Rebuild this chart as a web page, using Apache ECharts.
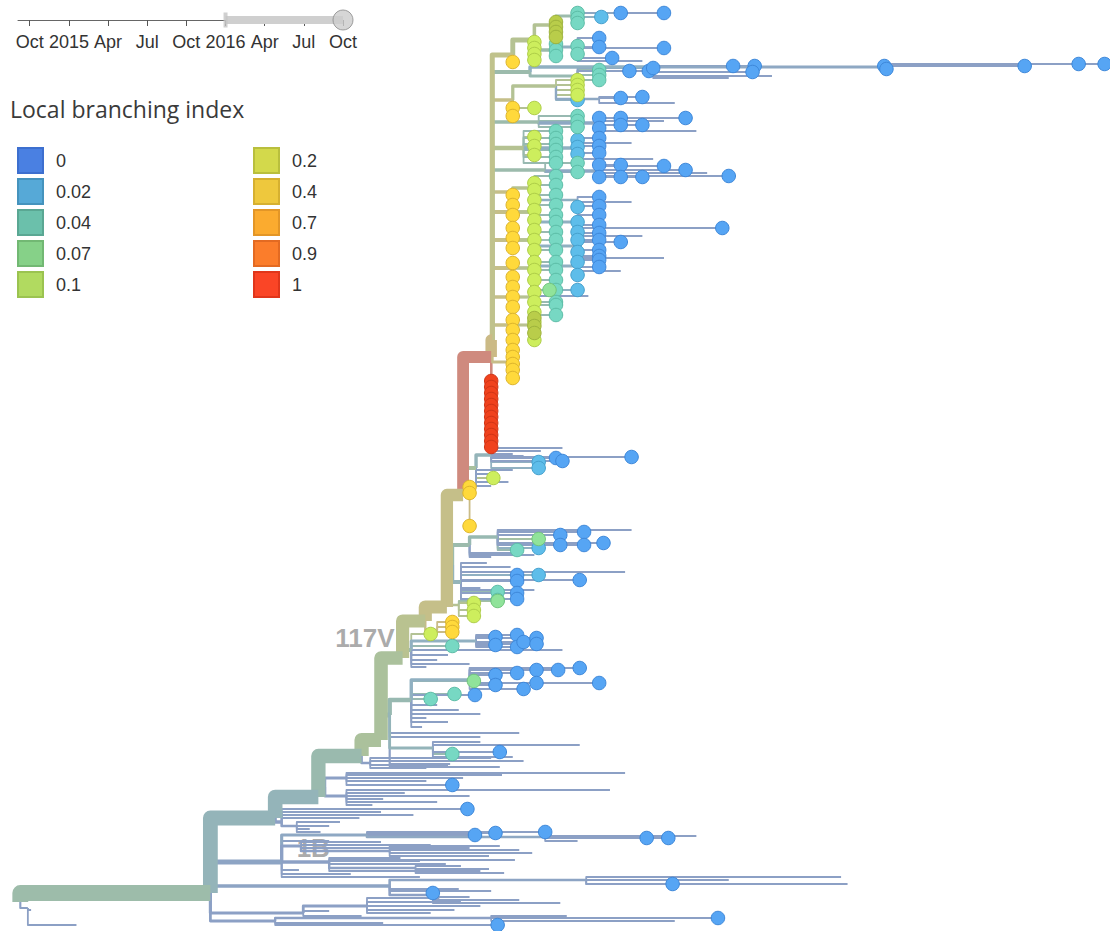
<!DOCTYPE html>
<html><head><meta charset="utf-8">
<script src="https://cdn.jsdelivr.net/npm/echarts@6/dist/echarts.min.js"></script>
<style>html,body{margin:0;padding:0;background:#fff}#c{width:1110px;height:931px}</style>
</head><body><div id="c"></div>
<script>
// ================= DATA =================
// Local branching index colour stops (legend)
const lbiStops = [0, 0.02, 0.04, 0.07, 0.1, 0.2, 0.4, 0.7, 0.9, 1];
const lbiLabels = ['0', '0.02', '0.04', '0.07', '0.1', '0.2', '0.4', '0.7', '0.9', '1'];
// Date slider
const timeTickMonths = [0, 3, 6, 9, 12, 15, 18, 21, 24];       // months since Oct 2014
const timeTickLabels = ['Oct', '2015', 'Apr', 'Jul', 'Oct', '2016', 'Apr', 'Jul', 'Oct'];
const timeRange = [-0.9, 24];
const sliderRange = [15, 24];
// Clade labels
const branchLabelNames = ['117V', '1B'];
const branchLabelNodes = ['T6', 'B1B'];

// Internal nodes: [id, parent, divergence (mutations), vertical order, LBI]
const trunkNodes = [
  ['root', null, 0.2, 902, 0.055],
  ['T1', 'root', 9.0, 893, 0.055],
  ['T2', 'T1', 12.0, 818, 0.03],
  ['T3', 'T2', 14.0, 797, 0.03],
  ['T4', 'T3', 16.0, 756, 0.045],
  ['T5', 'T4', 16.9, 740, 0.085],
  ['T6', 'T5', 17.9, 658, 0.085],
  ['T7', 'T6', 18.95, 621, 0.15],
  ['T8', 'T7', 19.95, 607, 0.3],
  ['T9', 'T8', 20.7, 495, 0.3],
  ['T10', 'T9', 22.0, 357, 1],
  ['TA', 'T10', 22.05, 340, 0.45]
];
const baseNodes = [
  ['O1', 'root', 0.55, 908, 0],
  ['B1B', 'T1', 12.3, 862, 0.005],
  ['B1Ba', 'B1B', 16.25, 835, 0.01],
  ['B1Bb', 'B1Ba', 24.5, 837, 0.01],
  ['B1Bc', 'B1B', 13.2, 846, 0],
  ['B1Bd', 'B1Bc', 17.3, 851, 0],
  ['B1Be', 'B1B', 14.5, 862, 0],
  ['B1Bf', 'B1Be', 18.5, 868, 0],
  ['B2', 'T1', 17.3, 886, 0.005],
  ['B2a', 'B2', 26.4, 880, 0.005],
  ['B2b', 'B2', 19.3, 895, 0],
  ['B3', 'T1', 13.3, 913, 0],
  ['B3a', 'B3', 16.25, 906, 0],
  ['B4', 'T1', 12.0, 921, 0],
  ['B4a', 'B4', 22.0, 918, 0],
  ['Q', 'T2', 12.3, 822, 0],
  ['Qa', 'Q', 13.0, 826, 0],
  ['P', 'T3', 14.3, 787, 0],
  ['Pa', 'P', 15.3, 778, 0],
  ['Pb', 'P', 15.3, 796, 0],
  ['R1', 'T4', 16.4, 763, 0]
];
const midNodes = [
  ['S', 'T5', 17.3, 715, 0.03],
  ['S1', 'S', 18.3, 700, 0.04],
  ['S1a', 'S1', 21.0, 680, 0.02],
  ['S2', 'S', 19.3, 748, 0.03],
  ['U', 'T6', 18.3, 650, 0.04],
  ['U1', 'U', 21.3, 641, 0.02],
  ['Y2', 'T7', 19.5, 630, 0.4],
  ['Lm', 'T8', 20.5, 605, 0.12],
  ['M', 'T8', 20.2, 565, 0.04],
  ['M1', 'M', 21.0, 545, 0.05],
  ['M1a', 'M1', 22.3, 537, 0.04],
  ['M2', 'M', 20.6, 582, 0.03],
  ['Y1', 'T9', 21.0, 495, 0.4],
  ['L0', 'T9', 21.3, 468, 0.08],
  ['L1', 'L0', 22.0, 455, 0.03]
];
const topNodes = [
  ['A0', 'TA', 23.0, 55, 0.2],
  ['A1', 'A0', 24.0, 40, 0.12],
  ['A2', 'A1', 25.0, 25, 0.1],
  ['A3', 'A2', 26.0, 16, 0.05],
  ['A4', 'A3', 28.0, 13, 0.01],
  ['A5', 'A1', 25.0, 50, 0.05],
  ['A6', 'A5', 26.0, 47, 0.02],
  ['Bl0', 'TA', 23.8, 72, 0.05],
  ['Bl1', 'Bl0', 26.0, 76, 0.04],
  ['Bl2', 'Bl0', 29.5, 67, 0.02],
  ['Bl3', 'Bl2', 40.2, 67, 0.01],
  ['C0', 'TA', 23.0, 100, 0.3],
  ['C1', 'C0', 25.0, 86, 0.1],
  ['C2', 'C1', 27.0, 99, 0.01],
  ['D0', 'TA', 24.2, 122, 0.05],
  ['D1', 'D0', 27.0, 123, 0.01],
  ['E0', 'TA', 23.5, 148, 0.12],
  ['E1', 'E0', 26.0, 148, 0.02],
  ['F0', 'TA', 24.5, 170, 0.05],
  ['F1', 'F0', 27.0, 171, 0.01],
  ['G1', 'TA', 23.0, 192, 0.3],
  ['G1a', 'G1', 24.0, 188, 0.12],
  ['G1b', 'G1a', 26.0, 200, 0.02],
  ['G2', 'TA', 23.0, 212, 0.3],
  ['G2a', 'G2', 24.0, 212, 0.12],
  ['G2b', 'G2a', 26.0, 222, 0.02],
  ['G3', 'TA', 23.0, 240, 0.3],
  ['G3a', 'G3', 24.0, 240, 0.12],
  ['G3b', 'G3a', 26.0, 246, 0.02],
  ['G4', 'TA', 23.0, 268, 0.3],
  ['G4a', 'G4', 24.0, 268, 0.12],
  ['G4b', 'G4a', 26.0, 266, 0.02],
  ['G5', 'TA', 23.0, 297, 0.3],
  ['G5a', 'G5', 24.0, 297, 0.12],
  ['G6', 'TA', 23.0, 325, 0.3],
  ['G6a', 'G6', 24.0, 325, 0.15],
  ['G7', 'TA', 23.0, 362, 0.35]
];

// Tips: [parent, divergence, LBI, sampled in date range (circle), [vertical orders]]
const baseTips = [
  ['O1', 2.8, 0, 0, [925]], ['O1', 0.7, 0, 0, [910]],
  ['B1Ba', 21.25, 0, 1, [835]], ['B1Ba', 22.2, 0, 1, [833]], ['B1Ba', 24.5, 0, 1, [832]],
  ['B1Bb', 29.2, 0, 1, [838]], ['B1Bb', 30.2, 0, 1, [838]], ['B1Bb', 31.5, 0, 0, [836]], ['B1Bb', 26.0, 0, 0, [841]],
  ['B1Bc', 16.9, 0, 0, [842]], ['B1Bc', 19.2, 0, 0, [845]], ['B1Bc', 21.0, 0, 0, [848]],
  ['B1Bd', 22.4, 0, 0, [846]], ['B1Bd', 23.3, 0, 0, [850]], ['B1Bd', 23.9, 0, 0, [853]], ['B1Bd', 21.9, 0, 0, [856]],
  ['B1Be', 17.8, 0, 0, [858]], ['B1Be', 18.7, 0, 0, [861]], ['B1Be', 19.9, 0, 0, [864]], ['B1Be', 23.1, 0, 0, [860]], ['B1Be', 21.5, 0, 0, [871]],
  ['B1Bf', 20.6, 0, 0, [866]], ['B1Bf', 21.9, 0, 0, [869]], ['B1Bf', 22.6, 0, 0, [873]],
  ['B1B', 13.1, 0, 0, [870]], ['B1B', 15.5, 0, 0, [874]], ['B1B', 18.7, 0, 0, [877]], ['B1B', 14.5, 0, 0, [841]],
  ['B2a', 38.2, 0, 0, [877]], ['B2a', 38.5, 0, 0, [884]], ['B2a', 30.4, 0, 1, [884]], ['B2a', 33.0, 0, 0, [880]],
  ['B2b', 19.3, 0, 1, [893]], ['B2b', 21.0, 0, 0, [897]], ['B2b', 23.3, 0, 0, [900]], ['B2b', 25.2, 0, 0, [903]],
  ['B2', 20.5, 0, 0, [889]], ['B2', 22.0, 0, 0, [891]],
  ['B3a', 19.6, 0, 0, [898]], ['B3a', 20.6, 0, 0, [902]], ['B3a', 21.5, 0, 0, [906]], ['B3a', 20.3, 0, 0, [910]], ['B3a', 19.2, 0, 0, [913]],
  ['B3', 16.0, 0, 0, [916]], ['B3', 14.5, 0, 0, [911]],
  ['B4', 22.3, 0, 1, [925]], ['B4a', 32.5, 0, 1, [918]], ['B4a', 30.5, 0, 0, [921]], ['B4a', 25.5, 0, 0, [916]], ['B4', 17.0, 0, 0, [923]],
  ['Q', 20.9, 0, 1, [809]], ['Q', 16.9, 0, 0, [812]], ['Q', 18.4, 0, 0, [815]], ['Q', 15.9, 0, 0, [818]],
  ['Qa', 15.0, 0, 0, [822]], ['Qa', 14.5, 0, 0, [826]], ['Qa', 13.6, 0, 0, [829]], ['Qa', 14.1, 0, 0, [832]],
  ['Pa', 28.2, 0, 0, [773]], ['Pa', 22.5, 0, 0, [775]], ['Pa', 20.7, 0, 0, [778]], ['Pa', 19.0, 0, 0, [781]], ['Pa', 20.2, 0, 1, [785]],
  ['Pb', 27.5, 0, 0, [790]], ['Pb', 18.0, 0, 0, [793]], ['Pb', 21.0, 0, 0, [796]], ['Pb', 17.0, 0, 0, [799]], ['Pb', 19.5, 0, 0, [802]], ['Pb', 16.5, 0, 0, [805]],
  ['R1', 22.0, 0, 0, [758]], ['R1', 23.5, 0, 0, [761]], ['R1', 20.0, 0, 0, [765]], ['R1', 19.0, 0, 0, [768]]
];
const midTips = [
  ['S1', 21.2, 0.07, 1, [681]], ['S1', 20.3, 0.04, 1, [694]], ['S1', 19.2, 0.04, 1, [699]], ['S1', 21.25, 0, 1, [695]],
  ['S1a', 22.2, 0, 1, [675, 685]], ['S1a', 23.2, 0, 1, [673]], ['S1a', 23.5, 0, 1, [689]], ['S1a', 24.1, 0, 1, [670, 683]],
  ['S1a', 25.1, 0, 1, [670]], ['S1a', 26.1, 0, 1, [668]], ['S1a', 27.0, 0, 1, [683]],
  ['S1', 19.5, 0, 0, [705]], ['S1', 20.5, 0, 0, [710]], ['S1', 21.5, 0, 0, [714]], ['S1', 19.0, 0, 0, [718]], ['S1', 20.0, 0, 0, [722]], ['S1', 18.8, 0, 0, [727]],
  ['S2', 20.2, 0.04, 1, [754]], ['S2', 22.4, 0, 1, [752]], ['S2', 26.1, 0, 0, [745]], ['S2', 23.0, 0, 0, [757]], ['S2', 21.5, 0, 0, [742]],
  ['S', 23.3, 0, 0, [733]], ['S', 21.5, 0, 0, [737]], ['S', 20.1, 0, 0, [764]], ['S', 22.4, 0, 0, [767]],
  ['U', 19.2, 0.1, 1, [634]], ['U', 20.2, 0.04, 1, [646]],
  ['U1', 22.2, 0, 1, [637, 645]], ['U1', 23.2, 0, 1, [635, 647]], ['U1', 23.5, 0, 1, [642]], ['U1', 24.1, 0, 1, [638, 644]],
  ['U', 25.3, 0, 0, [650]], ['U', 20.0, 0, 0, [655]], ['U', 19.5, 0, 0, [660]], ['U', 21.0, 0, 0, [664]], ['U', 19.0, 0, 0, [667]],
  ['Y2', 20.2, 0.4, 1, [622, 627, 632]],
  ['Lm', 21.2, 0.1, 1, [603, 610, 616]], ['Lm', 22.3, 0.07, 1, [601]],
  ['M1a', 24.2, 0.07, 1, [539]], ['M1a', 24.2, 0.02, 1, [548]], ['M1a', 23.2, 0.04, 1, [550]],
  ['M1a', 25.2, 0, 1, [535, 545]], ['M1a', 26.3, 0, 1, [532, 545]], ['M1a', 27.2, 0, 1, [543]], ['M1a', 28.5, 0, 0, [530]],
  ['M1', 23.0, 0, 0, [553]], ['M1', 22.0, 0, 0, [557]], ['M1', 24.0, 0, 0, [555]],
  ['M2', 23.2, 0, 1, [575, 581]], ['M2', 24.2, 0.02, 1, [575]], ['M2', 26.1, 0, 1, [580]],
  ['M2', 22.3, 0.04, 1, [592, 600]], ['M2', 23.2, 0, 1, [593, 599]],
  ['M2', 28.2, 0, 0, [572]], ['M2', 21.8, 0, 0, [563]], ['M2', 22.9, 0, 0, [567]], ['M2', 21.5, 0, 0, [588]], ['M2', 24.0, 0, 0, [590]],
  ['Y1', 21.0, 0.4, 1, [487, 493, 526]],
  ['L0', 22.1, 0.1, 1, [478]],
  ['L1', 24.2, 0.02, 1, [462, 468]], ['L1', 25.0, 0, 1, [458]], ['L1', 25.3, 0, 1, [461]], ['L1', 28.5, 0, 1, [457]],
  ['L1', 25.3, 0, 0, [448]], ['L1', 24.3, 0, 0, [451]], ['L1', 23.0, 0, 0, [454]], ['L1', 23.5, 0, 0, [456]],
  ['L0', 23.0, 0, 0, [470]], ['L0', 22.2, 0, 0, [474]], ['L0', 22.8, 0, 0, [482]], ['L0', 22.0, 0, 0, [486]]
];
const redTips = [
  ['T10', 22.0, 1, 1, [381, 387, 393, 399, 405, 411, 417, 423, 429, 435, 441, 447]]
];
const topTips = [
  ['A0', 23.0, 0.4, 1, [62]],
  ['A1', 24.0, 0.1, 1, [42, 48, 54, 60]],
  ['A2', 25.0, 0.2, 1, [22, 27, 32, 37]],
  ['A3', 26.0, 0.04, 1, [13, 18, 23]], ['A3', 27.1, 0.02, 1, [17]],
  ['A4', 28.0, 0, 1, [13]], ['A4', 30.0, 0, 1, [13]],
  ['A5', 25.0, 0.04, 1, [44, 50, 56]],
  ['A6', 26.0, 0.04, 1, [46, 54]], ['A6', 27.0, 0, 1, [38, 47]], ['A6', 30.0, 0, 1, [48]], ['A6', 27.6, 0, 1, [58]], ['A6', 29.0, 0, 0, [61]],
  ['Bl1', 27.0, 0.04, 1, [70, 75, 80]], ['Bl1', 28.4, 0, 1, [71]], ['Bl1', 29.3, 0, 1, [71]], ['Bl1', 29.5, 0, 1, [68]],
  ['Bl2', 33.2, 0, 1, [66]], ['Bl2', 34.2, 0, 1, [66]], ['Bl2', 34.1, 0, 1, [72]], ['Bl2', 35.0, 0, 0, [76]], ['Bl2', 33.0, 0, 0, [78]],
  ['Bl3', 40.2, 0, 1, [66]], ['Bl3', 40.3, 0, 1, [69]], ['Bl3', 46.7, 0, 1, [66]], ['Bl3', 49.2, 0, 1, [64]], ['Bl3', 50.4, 0, 1, [64]],
  ['C0', 23.0, 0.4, 1, [108, 116]], ['C0', 24.0, 0.1, 1, [108]],
  ['C1', 26.0, 0.1, 1, [80, 85, 90, 95]], ['C1', 26.0, 0.02, 1, [100]],
  ['C2', 28.0, 0, 1, [98]], ['C2', 29.0, 0, 1, [97]], ['C2', 30.5, 0, 0, [103]],
  ['D0', 26.0, 0.04, 1, [116, 121, 127]],
  ['D1', 27.0, 0, 1, [118, 128]], ['D1', 28.0, 0, 1, [118, 125]], ['D1', 29.0, 0, 1, [125]], ['D1', 31.0, 0, 1, [118]],
  ['D1', 31.5, 0, 0, [131]], ['D1', 30.0, 0, 0, [121]],
  ['E0', 24.0, 0.1, 1, [137, 146, 155]], ['E0', 25.0, 0.04, 1, [131, 138, 144, 150, 157, 163]],
  ['E1', 26.0, 0.02, 1, [140, 147, 154]], ['E1', 27.0, 0, 1, [138, 146, 153]], ['E1', 29.5, 0, 0, [159]], ['E1', 28.5, 0, 0, [143]],
  ['F0', 26.0, 0.04, 1, [163, 172]],
  ['F1', 27.0, 0, 1, [165, 177]], ['F1', 28.0, 0, 1, [165, 177]], ['F1', 29.0, 0, 1, [177]],
  ['F1', 30.0, 0, 1, [166]], ['F1', 31.0, 0, 1, [170]], ['F1', 33.0, 0, 1, [176]], ['F1', 32.0, 0, 0, [173]],
  ['G1', 23.0, 0.4, 1, [195]], ['G1a', 24.0, 0.1, 1, [183, 190]], ['G1a', 25.0, 0.04, 1, [176, 185, 195]],
  ['G1b', 26.0, 0.02, 1, [207]], ['G1b', 27.0, 0, 1, [197, 206]], ['G1b', 28.5, 0, 0, [202]],
  ['G2', 23.0, 0.4, 1, [205, 215]], ['G2a', 24.0, 0.1, 1, [200, 210, 220]], ['G2a', 25.0, 0.04, 1, [205, 215, 222]],
  ['G2b', 26.0, 0.02, 1, [222, 232]], ['G2b', 27.0, 0, 1, [215, 225, 233]], ['G2b', 32.7, 0, 1, [228]], ['G2b', 29.0, 0, 0, [236]],
  ['G3', 23.0, 0.4, 1, [228, 238, 248]], ['G3a', 24.0, 0.1, 1, [230, 240, 250]], ['G3a', 25.0, 0.04, 1, [232, 240, 250]],
  ['G3b', 26.0, 0.02, 1, [240, 252]], ['G3b', 27.0, 0, 1, [240, 250, 256]], ['G3b', 28.0, 0, 1, [242]], ['G3b', 30.0, 0, 0, [258]],
  ['G4', 23.0, 0.4, 1, [263, 277]], ['G4a', 24.0, 0.1, 1, [262, 270, 280]], ['G4a', 25.0, 0.04, 1, [262, 270, 280]],
  ['G4b', 26.0, 0.02, 1, [262, 275]], ['G4b', 27.0, 0, 1, [260, 267]], ['G4b', 28.0, 0, 0, [271]],
  ['G5', 23.0, 0.4, 1, [287, 297, 307]], ['G5a', 24.0, 0.1, 1, [292, 302, 312]], ['G5a', 25.0, 0.04, 1, [290, 302]],
  ['G5a', 24.7, 0.07, 1, [290]], ['G5a', 26.0, 0.02, 1, [290]], ['G5a', 26.5, 0, 0, [296]],
  ['G6', 23.0, 0.4, 1, [320, 330, 340]], ['G6a', 24.0, 0.1, 1, [322, 340]], ['G6a', 24.0, 0.2, 1, [318, 326, 333]],
  ['G6a', 25.0, 0.04, 1, [305, 315]],
  ['G7', 23.0, 0.4, 1, [350, 357, 364, 370, 378]]
];

// ================= STYLE =================
const FONT = '"Liberation Sans", Arial, Helvetica, sans-serif';
const legendFill   = ['#4a80e2', '#56a9d7', '#6bc0ab', '#86d188', '#b1da60', '#d3d94b', '#eec83d', '#fbab2f', '#fb7d2b', '#fa4526'];
const legendStroke = ['#3d6fcf', '#4593bd', '#5aa793', '#72b873', '#9bc350', '#b9bf3d', '#d6b030', '#e39627', '#e36a22', '#e0361b'];
const tipFill      = ['#56a5f4', '#5ebdea', '#77d8c3', '#90e39a', '#cdee5d', '#b9cd4a', '#ffd93b', '#ffb22f', '#ff812c', '#f0421d'];
const tipStroke    = ['#3d87d9', '#45a0cd', '#5bbca6', '#72c57c', '#aecd48', '#9db23c', '#dcb42c', '#e0952a', '#e06a22', '#cf3416'];

function hex(h) { return [1, 3, 5].map(i => parseInt(h.slice(i, i + 2), 16)); }
function lbiRgb(v) {
  for (let i = 0; i < lbiStops.length - 1; i++) {
    if (v <= lbiStops[i + 1]) {
      const t = (v - lbiStops[i]) / (lbiStops[i + 1] - lbiStops[i]);
      const a = hex(legendFill[i]), b = hex(legendFill[i + 1]);
      return a.map((c, k) => c + (b[k] - c) * t);
    }
  }
  return hex(legendFill[legendFill.length - 1]);
}
function branchColor(v) {
  const c = lbiRgb(v);
  const m = c.map(x => Math.round(0.38 * x + 0.62 * 180));
  return 'rgb(' + m.join(',') + ')';
}
function classOf(v) {
  let best = 0;
  lbiStops.forEach((s, i) => { if (Math.abs(s - v) < Math.abs(lbiStops[best] - v)) best = i; });
  return best;
}

// ================= TREE BUILD =================
const nodes = {};
[].concat(trunkNodes, baseNodes, midNodes, topNodes).forEach(r => {
  nodes[r[0]] = { id: r[0], parent: r[1], x: r[2], y: r[3], lbi: r[4], n: 0 };
});
const tips = [];
[].concat(baseTips, midTips, redTips, topTips).forEach(g => {
  g[4].forEach(y => tips.push({ parent: g[0], x: g[1], y: y, lbi: g[2], circle: g[3] }));
});
tips.forEach(t => { let p = t.parent; while (p) { nodes[p].n++; p = nodes[p].parent; } });
const widthOf = n => 1 + 0.8 * Math.sqrt(n);
const branches = [];
Object.keys(nodes).forEach(k => {
  const nd = nodes[k];
  if (!nd.parent) return;
  const P = nodes[nd.parent];
  branches.push({ px: P.x, py: P.y, cx: nd.x, cy: nd.y, w: widthOf(nd.n), color: branchColor(nd.lbi) });
});
tips.forEach(t => {
  const P = nodes[t.parent];
  branches.push({ px: P.x, py: P.y, cx: t.x, cy: t.y, w: widthOf(1), color: branchColor(t.lbi) });
});
branches.sort((a, b) => a.w - b.w);

// ================= CHART =================
const chart = echarts.init(document.getElementById('c'), null, { renderer: 'svg' });

const tipSeries = lbiLabels.map((name, i) => ({
  name: name,
  type: 'scatter',
  xAxisIndex: 0, yAxisIndex: 0,
  symbol: 'circle',
  symbolSize: 13.5,
  silent: true,
  z: 5,
  itemStyle: { color: tipFill[i], borderColor: tipStroke[i], borderWidth: 1, opacity: 1 },
  data: tips.filter(t => t.circle && classOf(t.lbi) === i).map(t => [t.x, t.y])
}));

const legendItem = i => ({
  name: lbiLabels[i],
  itemStyle: { color: legendFill[i], borderColor: legendStroke[i], borderWidth: 2 }
});
const legendBase = {
  orient: 'vertical', icon: 'rect', itemWidth: 25, itemHeight: 25, itemGap: 4,
  padding: 0, selectedMode: false,
  textStyle: { fontSize: 18, color: '#333', fontFamily: FONT, padding: [0, 0, 0, 8] }
};

const labelOffsets = { '117V': [-8, -20, 'right'], '1B': [15, -14, 'left'] };

chart.setOption({
  animation: false,
  backgroundColor: '#fff',
  title: {
    text: 'Local branching index', left: 10, top: 97, padding: 0,
    textStyle: { fontSize: 23, fontWeight: 'normal', color: '#3a3a3a', fontFamily: '"Open Sans", ' + FONT }
  },
  legend: [
    Object.assign({ left: 17, top: 147, data: [0, 1, 2, 3, 4].map(legendItem) }, legendBase),
    Object.assign({ left: 253, top: 147, data: [5, 6, 7, 8, 9].map(legendItem) }, legendBase)
  ],
  grid: [
    { left: 0, top: 0, width: 1110, height: 931 },
    { left: 18, top: 10, width: 325, height: 10 }
  ],
  xAxis: [
    { type: 'value', gridIndex: 0, min: -0.74, max: 50.65, show: false },
    {
      type: 'value', gridIndex: 1, min: timeRange[0], max: timeRange[1], position: 'bottom',
      axisLine: { show: true, lineStyle: { color: '#666', width: 1 } },
      axisTick: { show: true, customValues: timeTickMonths, length: 6, lineStyle: { color: '#555' } },
      axisLabel: {
        show: true, customValues: timeTickMonths, margin: 13, fontSize: 18, color: '#333', fontFamily: FONT,
        formatter: v => timeTickLabels[timeTickMonths.indexOf(Math.round(v))] || ''
      },
      splitLine: { show: false }
    }
  ],
  yAxis: [
    { type: 'value', gridIndex: 0, min: 0, max: 931, inverse: true, show: false },
    { type: 'value', gridIndex: 1, min: 0, max: 1, show: false }
  ],
  series: [
    {
      type: 'scatter', name: 'cladeLabels', xAxisIndex: 0, yAxisIndex: 0, symbolSize: 0, silent: true, z: 1,
      data: branchLabelNames.map((nm, i) => {
        const nd = nodes[branchLabelNodes[i]];
        const o = labelOffsets[nm];
        return {
          name: nm, value: [nd.x, nd.y],
          label: {
            show: true, formatter: nm, position: [o[0], o[1]], align: o[2], verticalAlign: 'middle',
            fontSize: 26, fontWeight: 'bold', color: '#949494', fontFamily: FONT
          }
        };
      })
    },
    {
      type: 'custom', name: 'branches', xAxisIndex: 0, yAxisIndex: 0, silent: true, z: 2,
      data: branches.map(b => [b.px, b.py, b.cx, b.cy]),
      encode: { x: [0, 2], y: [1, 3] },
      renderItem: function (params, api) {
        const b = branches[params.dataIndex];
        const p0 = api.coord([api.value(0), api.value(1)]);
        const p1 = api.coord([api.value(0), api.value(3)]);
        const p2 = api.coord([api.value(2), api.value(3)]);
        return {
          type: 'polyline',
          shape: { points: [p0, p1, p2] },
          style: { stroke: b.color, lineWidth: b.w, fill: null, lineJoin: 'round', lineCap: 'butt' },
          silent: true
        };
      }
    }
  ].concat(tipSeries).concat([
    {
      type: 'line', name: 'sliderBar', xAxisIndex: 1, yAxisIndex: 1, silent: true, z: 3,
      symbol: 'none', lineStyle: { color: '#cfcfcf', width: 8, cap: 'butt' },
      data: [[sliderRange[0], 0], [sliderRange[1], 0]]
    },
    {
      type: 'scatter', name: 'sliderHandle', xAxisIndex: 1, yAxisIndex: 1, silent: true, z: 4,
      symbol: 'rect', symbolSize: [4, 15], itemStyle: { color: '#c4c4c4' },
      data: [[sliderRange[0], 0]]
    },
    {
      type: 'scatter', name: 'sliderKnob', xAxisIndex: 1, yAxisIndex: 1, silent: true, z: 4,
      symbol: 'circle', symbolSize: 20, itemStyle: { color: '#cccccc', borderColor: '#8a8a8a', borderWidth: 1 },
      data: [[sliderRange[1], 0]]
    }
  ])
});
</script>
</body></html>
